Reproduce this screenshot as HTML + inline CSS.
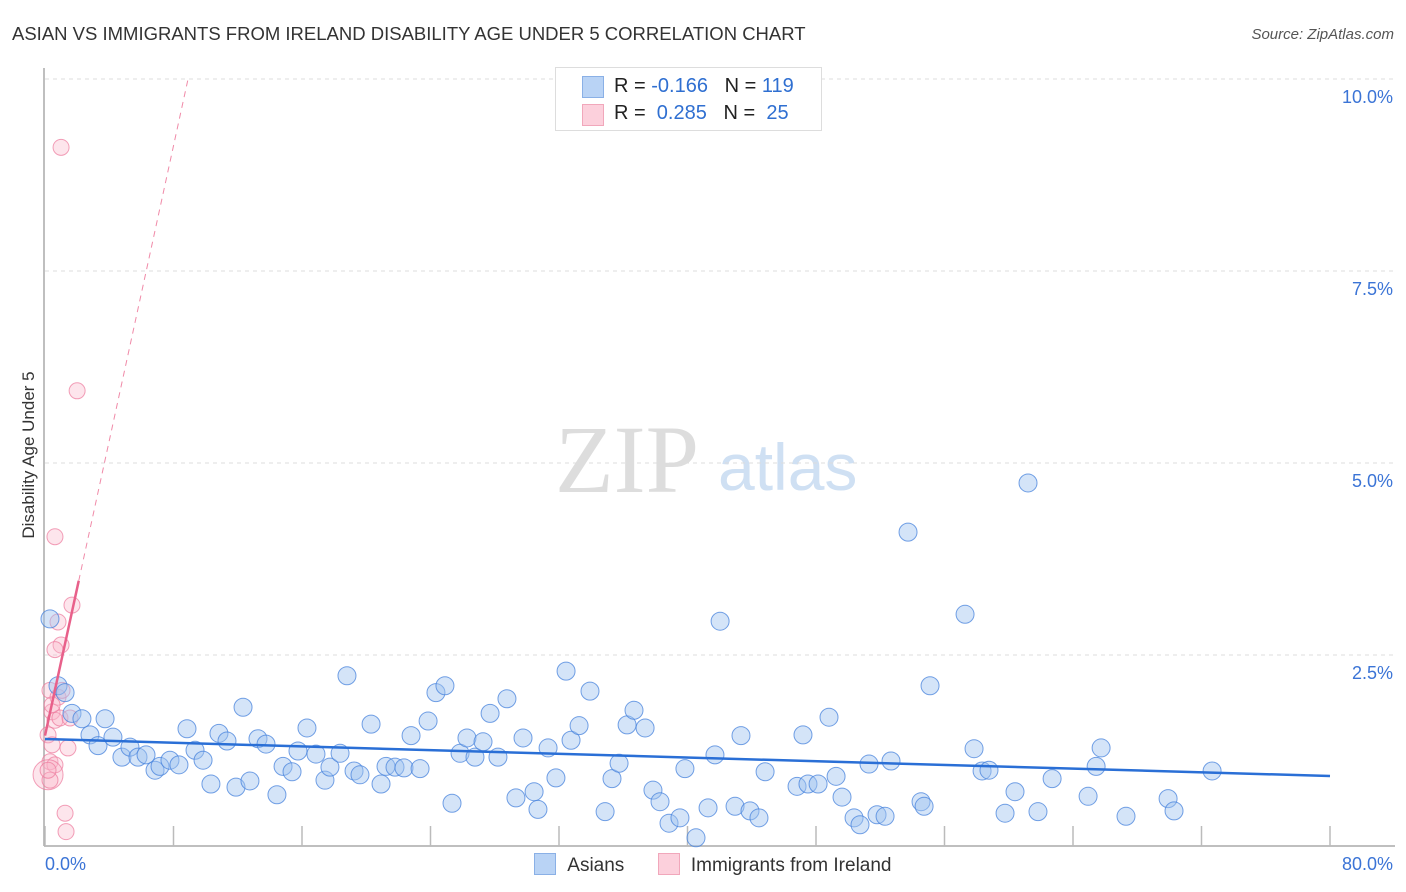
<!DOCTYPE html>
<html><head><meta charset="utf-8"><style>
body{margin:0;background:#fff;font-family:"Liberation Sans",sans-serif;}
#wrap{position:relative;width:1406px;height:892px;overflow:hidden;}
</style></head><body>
<div id="wrap">
<svg id="svg" width="1406" height="892">
<text x="12" y="40" font-size="18.5" fill="#333">ASIAN VS IMMIGRANTS FROM IRELAND DISABILITY AGE UNDER 5 CORRELATION CHART</text>
<text x="1394" y="39" font-size="15" fill="#555" font-style="italic" text-anchor="end">Source: ZipAtlas.com</text>
<text transform="translate(34,455) rotate(-90)" font-size="17" fill="#333" text-anchor="middle">Disability Age Under 5</text>
<text x="555" y="492" font-size="96" fill="#ddd" font-family="Liberation Serif">ZIP</text>
<text x="718" y="490" font-size="66" fill="#cfe0f3">atlas</text>
<g id="grid"></g><g id="pts"></g><g id="lines"></g>
</svg>
<div style="position:absolute;left:555px;top:67px;width:265px;height:62px;border:1px solid #ddd;background:#fff;font-size:20px;color:#222;">
 <div style="position:absolute;left:26px;top:8px;width:20px;height:20px;background:#b9d3f5;border:1px solid #8ab0e6"></div>
 <div style="position:absolute;left:58px;top:7px">R = <span style="color:#2f6fd1">-0.166</span>&nbsp;&nbsp;&nbsp;N = <span style="color:#2f6fd1">119</span></div>
 <div style="position:absolute;left:26px;top:36px;width:20px;height:20px;background:#fcd0dc;border:1px solid #f1a7bb"></div>
 <div style="position:absolute;left:58px;top:34px">R = &nbsp;<span style="color:#2f6fd1">0.285</span>&nbsp;&nbsp;&nbsp;N = &nbsp;<span style="color:#2f6fd1">25</span></div>
</div>
<div style="position:absolute;left:534px;top:853px;font-size:19px;color:#333;">
 <span style="display:inline-block;width:20px;height:20px;background:#b9d3f5;border:1px solid #8ab0e6;vertical-align:-4px"></span>
 <span style="margin-left:6px">Asians</span>
 <span style="display:inline-block;width:20px;height:20px;background:#fcd0dc;border:1px solid #f1a7bb;vertical-align:-4px;margin-left:28px"></span>
 <span style="margin-left:6px">Immigrants from Ireland</span>
</div>
</div>
<script>
const blueX=[0.31,0.81,1.25,1.68,2.30,2.80,3.30,3.74,4.23,4.79,5.29,5.79,6.29,6.85,7.16,7.78,8.34,8.84,9.34,9.84,10.33,10.83,11.33,11.89,12.33,12.76,13.26,13.76,14.44,14.82,15.38,15.75,16.31,16.87,17.43,17.74,18.37,18.80,19.24,19.61,20.30,20.92,21.23,21.79,22.35,22.79,23.35,23.85,24.34,24.90,25.34,25.84,26.27,26.77,27.27,27.71,28.20,28.76,29.32,29.76,30.45,30.69,31.32,31.81,32.44,32.75,33.25,33.93,34.87,35.30,35.74,36.24,36.67,37.36,37.85,38.29,38.85,39.53,39.84,40.53,41.28,41.71,42.03,42.96,43.33,43.89,44.45,44.83,46.82,47.19,47.50,48.13,48.81,49.25,49.62,50.37,50.74,51.30,51.80,52.30,52.67,53.73,54.54,54.73,55.10,57.28,57.84,58.34,58.77,59.77,60.39,61.20,61.82,62.70,64.94,65.44,65.75,67.30,69.92,70.29,72.66];
const blueY=[2.97,2.10,2.01,1.74,1.67,1.46,1.32,1.67,1.43,1.17,1.30,1.17,1.20,1.00,1.05,1.13,1.07,1.54,1.26,1.13,0.82,1.48,1.38,0.78,1.82,0.86,1.41,1.34,0.68,1.05,0.98,1.25,1.55,1.21,0.87,1.04,1.22,2.23,0.99,0.94,1.60,0.82,1.05,1.04,1.03,1.45,1.02,1.64,2.01,2.10,0.57,1.22,1.42,1.17,1.37,1.74,1.17,1.93,0.64,1.42,0.72,0.49,1.29,0.90,2.29,1.39,1.58,2.03,0.46,0.89,1.09,1.59,1.78,1.55,0.74,0.59,0.31,0.38,1.02,0.12,0.51,1.20,2.94,0.53,1.45,0.47,0.38,0.98,0.79,1.46,0.82,0.82,1.69,0.92,0.65,0.38,0.29,1.08,0.42,0.40,1.12,4.10,0.59,0.53,2.10,3.03,1.28,0.99,1.00,0.44,0.72,4.74,0.46,0.89,0.66,1.05,1.29,0.40,0.63,0.47,0.99];
const pinkX=[1.0,2.0,0.62,1.68,0.81,1.0,0.62,0.31,0.44,0.62,0.93,1.56,0.19,0.44,1.43,0.31,0.62,0.19,0.31,0.19,1.25,1.31,0.81,1.06,0.44];
const pinkY=[9.11,5.94,4.04,3.15,2.93,2.63,2.57,2.04,1.76,1.65,1.68,1.68,1.46,1.33,1.29,1.11,1.07,0.94,0.87,1.00,0.44,0.20,1.95,2.04,1.85];
const yTicks=[2.5,5.0,7.5,10.0];
const xTicks=[0,8,16,24,32,40,48,56,64,72,80];
const blueTrend=[1.406,0.924];
const pinkIntercept=1.45, pinkSlope=0.96;
const NS="http://www.w3.org/2000/svg";
const sx=v=>45+v/80*1285, sy=v=>847-v*76.8;
function mk(parent,tag,attrs){const e=document.createElementNS(NS,tag);for(const k in attrs)e.setAttribute(k,attrs[k]);document.getElementById(parent).appendChild(e);return e;}
yTicks.forEach(t=>{
 const l=mk('grid','line',{x1:45,x2:1395,y1:sy(t),y2:sy(t),stroke:'#ddd','stroke-dasharray':'4,4'});
 
 
 const tx=mk('grid','text',{x:1393,y:sy(t)+24,'font-size':18,fill:'#3b74d6','text-anchor':'end'});
 tx.textContent=t.toFixed(1)+'%';
 
 
});
const topLine=mk('grid','line',{x1:45,x2:1395,y1:79,y2:79,stroke:'#ddd','stroke-dasharray':'4,4'});


const ax=mk('grid','line',{x1:44,x2:44,y1:68,y2:846,stroke:'#aaa','stroke-width':1.5});


const bx=mk('grid','line',{x1:44,x2:1395,y1:846,y2:846,stroke:'#aaa','stroke-width':1.5});


xTicks.forEach(t=>{
 const l=mk('grid','line',{x1:sx(t),x2:sx(t),y1:826,y2:846,stroke:'#bbb','stroke-width':1.5});
 
 
});
[[0,'start',45],[80,'end',1393]].forEach(([v,a,x])=>{
 const tx=mk('grid','text',{x:x,y:870,'font-size':18,fill:'#3b74d6','text-anchor':a});
 tx.textContent=v.toFixed(1)+'%';
 
 
});
pinkX.forEach((x,i)=>{
 const c=mk('pts','circle',{cx:sx(x),cy:sy(pinkY[i]),r:(i==17?15:8),fill:'rgba(250,180,200,0.35)',stroke:'rgba(236,120,155,0.7)','stroke-width':1});
 
 
});
blueX.forEach((x,i)=>{
 const c=mk('pts','circle',{cx:sx(x),cy:sy(blueY[i]),r:9,fill:'rgba(160,195,240,0.45)',stroke:'rgba(70,130,220,0.75)','stroke-width':1});
 
 
});
const bl=mk('lines','line',{x1:sx(0),y1:sy(blueTrend[0]),x2:sx(80),y2:sy(blueTrend[1]),stroke:'#2a6fd6','stroke-width':2.5});


const ps=mk('lines','line',{x1:sx(0),y1:sy(pinkIntercept),x2:sx(2.1),y2:sy(pinkIntercept+pinkSlope*2.1),stroke:'#e8608a','stroke-width':2.5});


const pd=mk('lines','line',{x1:sx(2.1),y1:sy(pinkIntercept+pinkSlope*2.1),x2:sx(8.9),y2:sy(pinkIntercept+pinkSlope*8.9),stroke:'#f08aa8','stroke-width':1,'stroke-dasharray':'6,5'});


</script>
</body></html>
